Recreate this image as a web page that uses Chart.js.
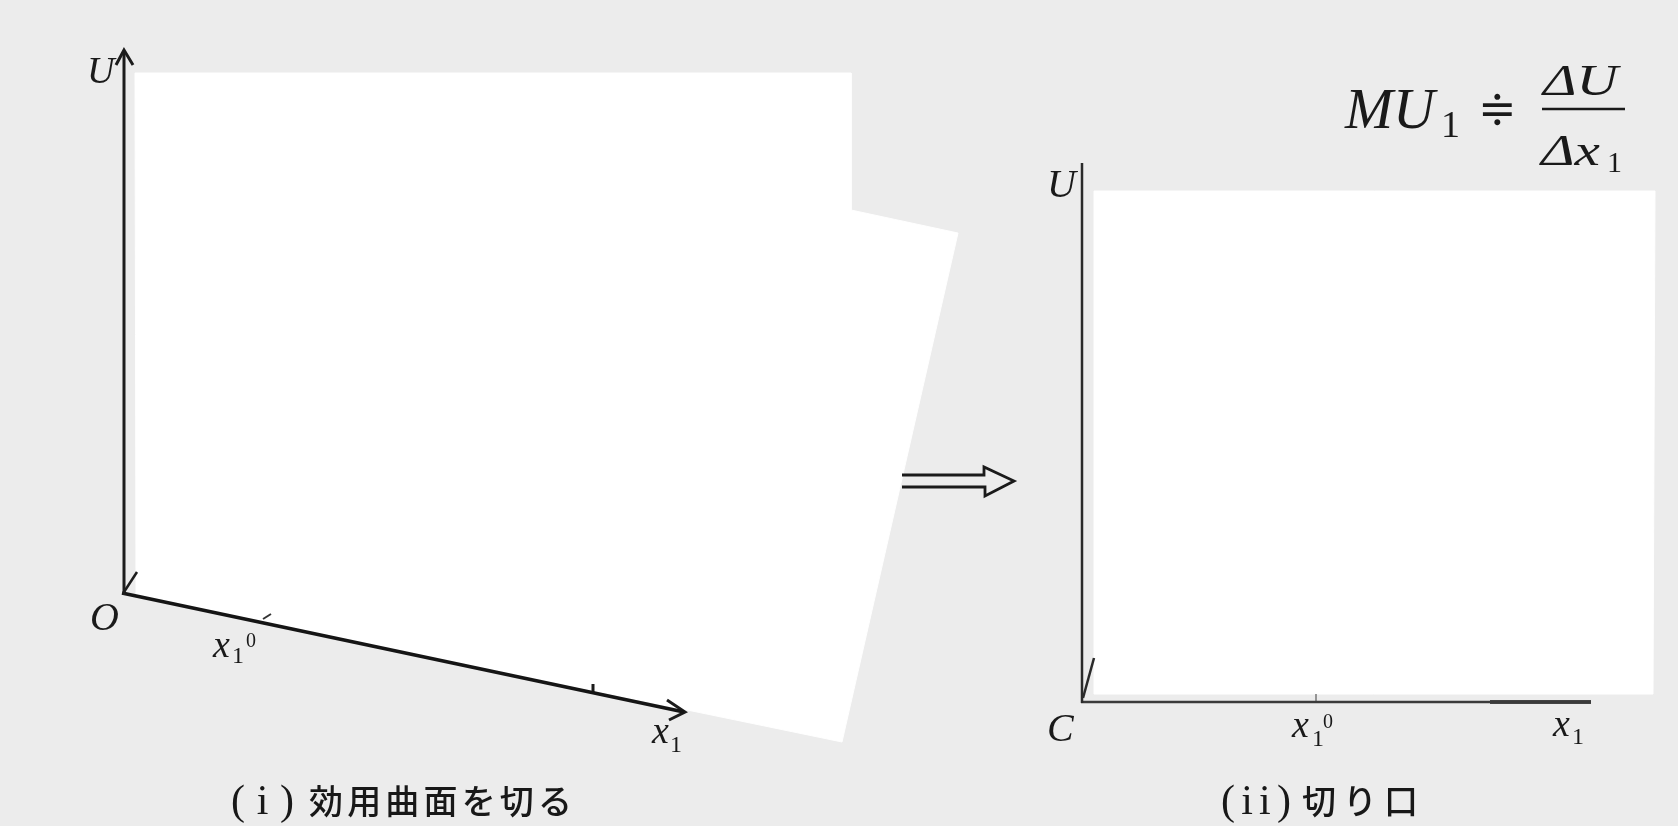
<!DOCTYPE html>
<html><head><meta charset="utf-8">
<script src="https://cdn.jsdelivr.net/npm/chart.js@4.4.0/dist/chart.umd.min.js"></script>
<style>html,body{margin:0;padding:0;background:#ececec;overflow:hidden}#wrap{width:1678px;height:826px;position:relative}</style>
</head><body><div id="wrap"><canvas id="c"></canvas></div>
<script>
// ---- figure data (diagram coordinates: x to the right, y downward) ----
const leftCover   = [[135,73],[851,73],[851,210],[958,233],[842,742],[136,596]];
const rightCover  = [[1094,191],[1655,191],[1653,694],[1094,694]];
const leftUAxis   = [[124,595],[124,51]];
const leftUHead   = [[116,65],[124,50],[133,65]];
const leftX1Axis  = [[122,593],[684,712]];
const leftX1Head  = [[667,700],[685,712],[669,720]];
const leftStub    = [[124,592],[137,572]];
const leftTick1   = [[263,619],[271,614]];
const leftTick2   = [[593,684],[593,693]];
const rightUAxis  = [[1082,703],[1082,163]];
const rightX1Axis = [[1081,702],[1591,702]];
const rightX1Dark = [[1490,702],[1591,702]];
const rightTick   = [[1316,694],[1316,702]];
const rightStub   = [[1083,698],[1094,658]];
const bigArrow    = [[902,475],[984,475],[984,467],[1014,481],[985,496],[985,487],[902,487]];
const fracBar     = [[1542,109],[1625,109]];

// label texts and anchors
const mathTexts   = ['U','O','x','1','0','x','1','U','C','x','1','0','x','1','MU','1','\u2251','\u0394U','\u0394x','1'];
const mathAnchors = [[87,83],[90,630],[213,657],[232,663],[246,647],[652,743],[670,752],
                     [1047,197],[1047,741],[1292,737],[1312,746],[1323,728],[1553,736],[1572,744],
                     [1345,128],[1441,137],[1478,124],[1543,95],[1541,165],[1607,172]];
const mathSizes   = [38,40,38,24,20,38,24,40,40,38,24,20,38,24,56,38,46,44,44,30];
const mathItalic  = [1,1,1,0,0,1,0,1,1,1,0,0,1,0,1,0,0,1,1,0];
const mathStretch = [1,1,1,1,1,1,1,1,1,1,1,1,1,1,1.03,1,1,1.3,1.3,1];

const captionParens = ['(i)','(ii)'];
const captionWords  = ['効用曲面を切る','切り口'];
const parenSpan     = [[231,294],[1221,1291]];
const wordSpan      = [[309,572],[1302,1418]];
const captionY      = 801;

const toPts = a => a.map(p => ({x:p[0], y:p[1]}));
function lineDs(pts, color, width, order){
  return {data: toPts(pts), showLine:true, fill:false, borderColor:color, borderWidth:width,
          pointRadius:0, tension:0, borderJoinStyle:'miter', borderCapStyle:'butt', order: order||0};
}
function polyDs(pts){
  return {data: toPts(pts.concat([pts[0]])), showLine:true, fill:'shape', backgroundColor:'#ffffff',
          borderColor:'#ffffff', borderWidth:1, pointRadius:0, tension:0, order:10};
}
const ink = '#1c1c1c';
const datasets = [
  polyDs(leftCover), polyDs(rightCover),
  lineDs(leftUAxis, ink, 3), lineDs(leftUHead, ink, 3),
  lineDs(leftX1Axis, '#151515', 3.8), lineDs(leftX1Head, ink, 3),
  lineDs(leftStub, ink, 2.5), lineDs(leftTick1, '#333', 2), lineDs(leftTick2, ink, 3),
  lineDs(rightUAxis, '#2a2a2a', 2.5), lineDs(rightX1Axis, '#3a3a3a', 2.5), lineDs(rightX1Dark, '#111', 3.5),
  lineDs(rightTick, '#777', 1.5), lineDs(rightStub, '#2a2a2a', 2.5),
  lineDs(bigArrow, '#1a1a1a', 2.8), lineDs(fracBar, '#1a1a1a', 2.5)
];

const decor = {
  id:'decor',
  beforeDraw(chart){
    const c = chart.ctx; c.save(); c.fillStyle = '#ececec';
    c.fillRect(0,0,chart.width,chart.height); c.restore();
  },
  afterDatasetsDraw(chart){
    const c = chart.ctx, sx = chart.scales.x, sy = chart.scales.y;
    c.save();
    c.fillStyle = '#1a1a1a';
    c.textBaseline = 'alphabetic';
    mathTexts.forEach((t,i) => {
      c.font = (mathItalic[i] ? 'italic ' : '') + mathSizes[i] + 'px "Liberation Serif", "DejaVu Serif", serif';
      const px = sx.getPixelForValue(mathAnchors[i][0]), py = sy.getPixelForValue(mathAnchors[i][1]);
      c.save(); c.translate(px, py); c.scale(mathStretch[i], 1); c.fillText(t, 0, 0); c.restore();
    });
    // captions
    c.fillStyle = '#181818';
    c.textBaseline = 'middle';
    function spaced(str, span, font, yv){
      c.font = font;
      const chars = Array.from(str);
      const ws = chars.map(ch => c.measureText(ch).width);
      const x0 = sx.getPixelForValue(span[0]), x1 = sx.getPixelForValue(span[1]);
      const total = ws.reduce((a,b)=>a+b,0);
      const gap = chars.length > 1 ? (x1 - x0 - total)/(chars.length-1) : 0;
      let x = x0;
      chars.forEach((ch,k) => { c.fillText(ch, x, sy.getPixelForValue(yv)); x += ws[k] + gap; });
    }
    captionParens.forEach((t,i) => spaced(t, parenSpan[i], '42px "Liberation Serif", serif', captionY + 2));
    captionWords.forEach((t,i) => spaced(t, wordSpan[i], '500 34px "Noto Sans CJK JP", sans-serif', captionY));
    c.restore();
  }
};

new Chart(document.getElementById('c'), {
  type:'scatter',
  data:{datasets},
  options:{
    responsive:true, maintainAspectRatio:false, animation:false, events:[],
    layout:{padding:0},
    plugins:{legend:{display:false}, tooltip:{enabled:false}, filler:{drawTime:'beforeDatasetsDraw'}},
    scales:{
      x:{type:'linear', min:0, max:1678, display:false},
      y:{type:'linear', min:0, max:826, reverse:true, display:false}
    }
  },
  plugins:[decor]
});
</script>
</body></html>
